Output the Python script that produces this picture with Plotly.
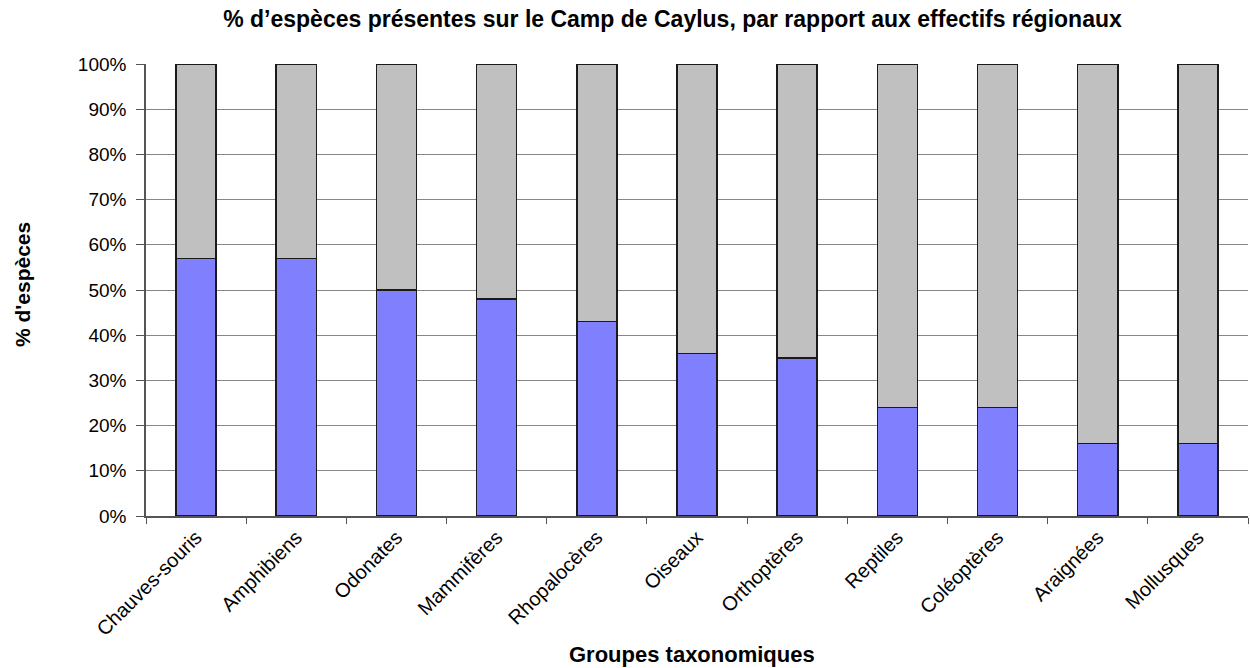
import plotly.graph_objects as go

categories = ["Chauves-souris", "Amphibiens", "Odonates", "Mammifères", "Rhopalocères",
              "Oiseaux", "Orthoptères", "Reptiles", "Coléoptères", "Araignées", "Mollusques"]
present = [57, 57, 50, 48, 43, 36, 35, 24, 24, 16, 16]
absent = [43, 43, 50, 52, 57, 64, 65, 76, 76, 84, 84]
y_ticks = [0, 10, 20, 30, 40, 50, 60, 70, 80, 90, 100]
y_ticklabels = [f"{v}%" for v in y_ticks]

font = "Liberation Sans, Arial, sans-serif"

fig = go.Figure()
fig.add_trace(go.Bar(x=categories, y=present, marker=dict(color="#8080FF", line=dict(color="#1a1a1a", width=1.5)),
                     width=0.4, showlegend=False))
fig.add_trace(go.Bar(x=categories, y=absent, marker=dict(color="#C0C0C0", line=dict(color="#1a1a1a", width=1.5)),
                     width=0.4, showlegend=False))

fig.update_layout(
    barmode="stack",
    width=1250, height=668,
    margin=dict(l=146, r=2, t=64, b=152),
    plot_bgcolor="white", paper_bgcolor="white",
    font=dict(family=font, size=19, color="black"),
    title=dict(text="<b>% d’espèces présentes sur le Camp de Caylus, par rapport aux effectifs régionaux</b>",
               x=0.538, xanchor="center", y=0.972, yanchor="middle",
               font=dict(family=font, size=23, color="black")),
    xaxis=dict(
        tickangle=-45, showline=True, linecolor="#555555", linewidth=1.5,
        ticks="outside", tickson="boundaries", ticklen=6, tickcolor="#555555",
        tickfont=dict(family=font, size=20),
        showgrid=False, automargin=False,
    ),
    yaxis=dict(
        range=[0, 100], tickvals=y_ticks, ticktext=y_ticklabels,
        showline=True, linecolor="#555555", linewidth=1.5,
        ticks="outside", ticklen=8, tickcolor="#555555", ticklabelstandoff=6,
        showgrid=True, gridcolor="#888888", gridwidth=1,
        tickfont=dict(family=font, size=19), automargin=False,
    ),
    annotations=[
        dict(text="<b>Groupes taxonomiques</b>", xref="paper", yref="paper", x=0.4955, y=-0.3075,
             xanchor="center", yanchor="middle", showarrow=False, font=dict(family=font, size=22)),
        dict(text="<b>% d'espèces</b>", xref="paper", yref="paper", x=-0.1125, y=0.511,
             xanchor="center", yanchor="middle", textangle=-90, showarrow=False, font=dict(family=font, size=21)),
    ],
)

fig.write_html("out.html", config={"displayModeBar": False},
               post_script="document.body.style.margin='0';document.body.style.padding='0';")
